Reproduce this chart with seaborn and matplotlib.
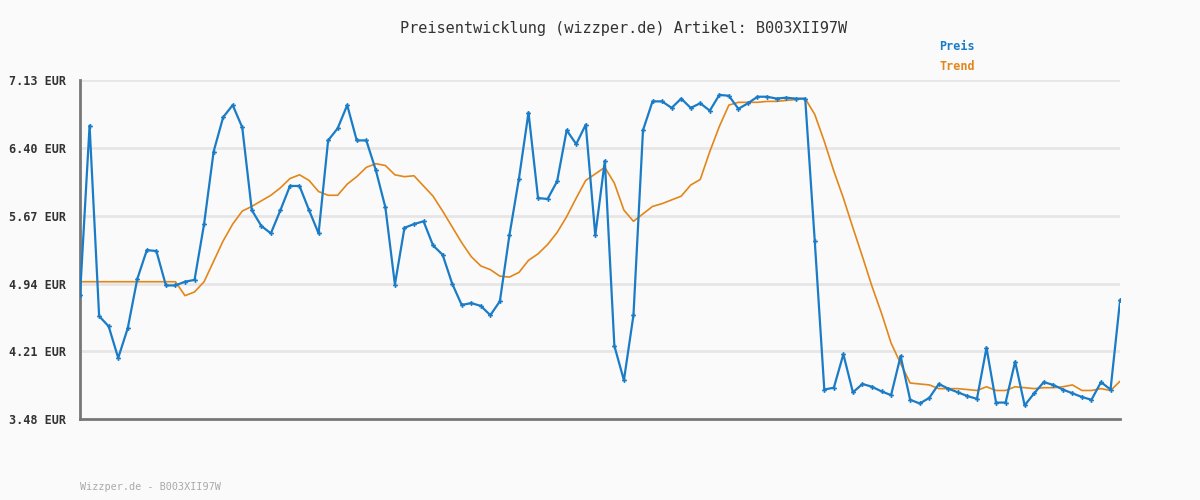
import matplotlib
matplotlib.use("Agg")
import matplotlib.pyplot as plt
import seaborn as sns
import pandas as pd

# Preisverlauf
preis = [4.82, 6.64, 4.59, 4.48, 4.14, 4.46, 4.99, 5.30, 5.29, 4.92,
         4.92, 4.96, 4.98, 5.58, 6.36, 6.73, 6.86, 6.62, 5.73, 5.56,
         5.48, 5.73, 5.99, 5.99, 5.73, 5.48, 6.48, 6.61, 6.86, 6.48,
         6.48, 6.16, 5.76, 4.93, 5.54, 5.58, 5.61, 5.35, 5.25, 4.94,
         4.71, 4.73, 4.70, 4.60, 4.75, 5.46, 6.07, 6.78, 5.86, 5.85,
         6.04, 6.59, 6.44, 6.65, 5.46, 6.26, 4.27, 3.90, 4.60, 6.59,
         6.90, 6.90, 6.83, 6.93, 6.83, 6.88, 6.80, 6.97, 6.96, 6.82,
         6.88, 6.95, 6.95, 6.93, 6.94, 6.93, 6.93, 5.40, 3.80, 3.82,
         4.18, 3.77, 3.86, 3.83, 3.78, 3.74, 4.16, 3.69, 3.65, 3.71,
         3.86, 3.81, 3.77, 3.73, 3.70, 4.25, 3.66, 3.66, 4.10, 3.63,
         3.76, 3.88, 3.85, 3.80, 3.76, 3.72, 3.69, 3.88, 3.80, 4.76]

trend = [4.96, 4.96, 4.96, 4.96, 4.96, 4.96, 4.96, 4.96, 4.96, 4.96,
         4.96, 4.81, 4.85, 4.96, 5.18, 5.40, 5.58, 5.72, 5.77, 5.83,
         5.89, 5.97, 6.07, 6.11, 6.05, 5.93, 5.89, 5.89, 6.01, 6.09,
         6.19, 6.23, 6.21, 6.11, 6.09, 6.10, 5.99, 5.88, 5.72, 5.55,
         5.38, 5.23, 5.13, 5.09, 5.02, 5.01, 5.06, 5.19, 5.26, 5.36,
         5.49, 5.66, 5.86, 6.05, 6.12, 6.19, 6.02, 5.73, 5.61, 5.69,
         5.77, 5.80, 5.84, 5.88, 6.00, 6.06, 6.36, 6.63, 6.86, 6.89,
         6.89, 6.89, 6.90, 6.90, 6.91, 6.92, 6.93, 6.76, 6.47, 6.15,
         5.86, 5.54, 5.23, 4.91, 4.62, 4.30, 4.08, 3.87, 3.86, 3.85,
         3.81, 3.81, 3.81, 3.80, 3.79, 3.83, 3.79, 3.79, 3.83, 3.82,
         3.81, 3.82, 3.82, 3.83, 3.85, 3.79, 3.79, 3.81, 3.79, 3.89]

y_ticks = [3.48, 4.21, 4.94, 5.67, 6.40, 7.13]

df = pd.DataFrame({"tag": range(len(preis)), "Preis": preis, "Trend": trend})

sns.set_theme(style="white")
plt.rcParams['font.family'] = ['DejaVu Sans Mono', 'DejaVu Sans']

bg = "#fafafa"
blau = "#1a7cc6"
orange = "#e3861a"

fig = plt.figure(figsize=(12, 5), dpi=100, facecolor=bg)
ax = fig.add_axes([0.0667, 0.1614, 0.8667, 0.6786])
ax.set_facecolor(bg)

for t in y_ticks[1:]:
    ax.axhline(t, color="#e6e6e6", lw=2, zorder=0)

sns.lineplot(data=df, x="tag", y="Trend", color=orange, lw=1.2, ax=ax, zorder=2)
sns.lineplot(data=df, x="tag", y="Preis", color=blau, lw=1.6, marker="P",
             markersize=3.5, markeredgewidth=0, ax=ax, zorder=3)

ax.set_xlim(0, len(preis) - 1)
ax.set_ylim(y_ticks[0], y_ticks[-1])
ax.set_yticks(y_ticks)
ax.set_yticklabels([f"{t:.2f} EUR" for t in y_ticks], fontsize=8.5,
                   fontweight="bold", color="#333333")
ax.set_xticks([])
ax.tick_params(axis="y", length=0, pad=10)
ax.set_xlabel("")
ax.set_ylabel("")
for s in ["top", "right"]:
    ax.spines[s].set_visible(False)
for s in ["left", "bottom"]:
    ax.spines[s].set_color("#777777")
    ax.spines[s].set_linewidth(2)

fig.text(0.52, 0.944, "Preisentwicklung (wizzper.de) Artikel: B003XII97W",
         ha="center", va="center", fontsize=11, color="#333333")
fig.text(0.783, 0.906, "Preis", ha="left", va="center", fontsize=8.5,
         fontweight="bold", color=blau)
fig.text(0.783, 0.866, "Trend", ha="left", va="center", fontsize=8.5,
         fontweight="bold", color=orange)
fig.text(0.0667, 0.026, "Wizzper.de - B003XII97W", ha="left", va="center",
         fontsize=7.3, color="#aaaaaa")

fig.savefig("out.png", dpi=100, facecolor=bg)
